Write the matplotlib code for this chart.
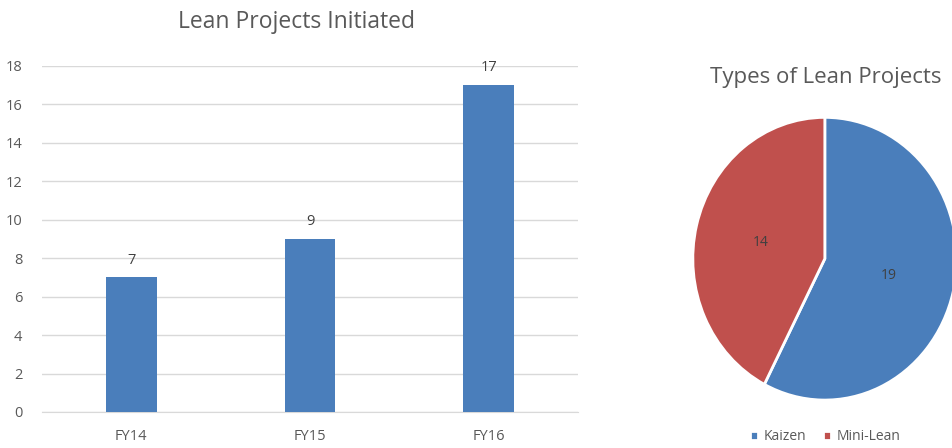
import matplotlib.pyplot as plt
import numpy as np

plt.rcParams['font.family'] = ['Open Sans', 'DejaVu Sans']

# data
years = ['FY14', 'FY15', 'FY16']
projects = [7, 9, 17]
yticks = [0, 2, 4, 6, 8, 10, 12, 14, 16, 18]

types = ['Kaizen', 'Mini-Lean']
type_counts = [19, 14]

blue = '#4a7ebb'
red = '#c0504d'
txt = '#595959'
grid = '#d9d9d9'

fig = plt.figure(figsize=(9.53, 4.48), dpi=100)

# bar chart
ax = fig.add_axes([0.044, 0.0804, 0.5625, 0.7723])
x = np.arange(len(years))
bars = ax.bar(x, projects, width=0.285, color=blue, zorder=3)
for b, v in zip(bars, projects):
    ax.annotate(str(v), (b.get_x() + b.get_width() / 2, v), xytext=(0, 7),
                textcoords='offset points', ha='center', va='bottom',
                fontsize=10.5, color='#404040')
ax.set_xlim(-0.5, len(years) - 0.5)
ax.set_ylim(0, 18)
ax.set_yticks(yticks)
ax.set_xticks(x)
ax.set_xticklabels(years)
ax.yaxis.grid(True, color=grid, linewidth=1, zorder=0)
for s in ['top', 'right', 'left']:
    ax.spines[s].set_visible(False)
ax.spines['bottom'].set_color(grid)
ax.tick_params(length=0, colors=txt, labelsize=10.5)
ax.tick_params(axis='x', pad=12)
ax.tick_params(axis='y', pad=14)
fig.text(0.311, 0.952, 'Lean Projects Initiated', ha='center', va='center',
         fontsize=16.5, color=txt)

# pie chart
pax = fig.add_axes([0.727, 0.107, 0.277, 0.631])
wedges, texts, autotexts = pax.pie(
    type_counts, colors=[blue, red], startangle=90, counterclock=False,
    autopct=lambda p: '%d' % round(p * sum(type_counts) / 100),
    pctdistance=0.5, wedgeprops=dict(edgecolor='white', linewidth=2))
for t in autotexts:
    t.set_color('#404040')
    t.set_fontsize(10)
pax.set_aspect('auto')
pax.set_xlim(-1, 1)
pax.set_ylim(-1, 1)
fig.text(0.866, 0.828, 'Types of Lean Projects', ha='center', va='center',
         fontsize=16, color=txt)
fig.legend(wedges, types, loc='center', bbox_to_anchor=(0.866, 0.025),
           ncol=2, frameon=False, fontsize=10, labelcolor=txt,
           handlelength=0.6, handleheight=0.6, handletextpad=0.4,
           columnspacing=1.2)

fig.savefig('out.png', dpi=100)
